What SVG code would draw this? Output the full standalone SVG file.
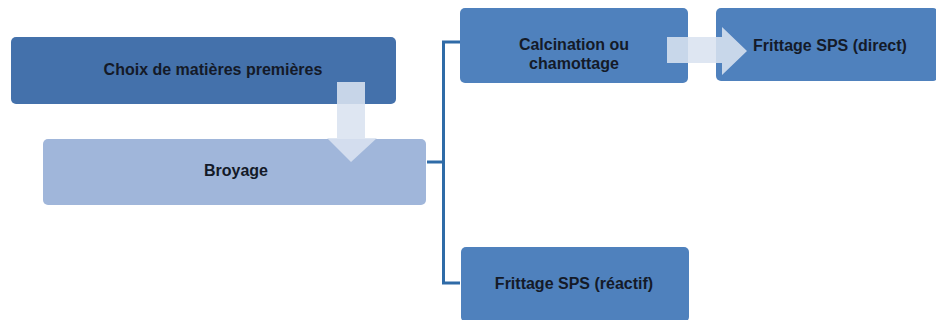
<svg xmlns="http://www.w3.org/2000/svg" width="936" height="320" viewBox="0 0 936 320">
<style>
.t{font-family:"Liberation Sans",Arial,sans-serif;font-weight:bold;font-size:16px;fill:#141a28;text-anchor:middle;dominant-baseline:central}
.dk{fill:#4471ab}
.md{fill:#4f81bd}
.lt{fill:#a0b6da}
.ar{fill:#d9e2f0;opacity:0.88}
.cn{stroke:#2f6ba7;stroke-width:3;fill:none}
</style>
<rect width="936" height="320" fill="#ffffff"/>
<g id="connectors">
<path class="cn" d="M460,42 H443.5 V283 H460"/>
<path class="cn" d="M427,162 H443.5"/>
</g>
<g id="n1">
<rect class="dk" x="11" y="37" width="385" height="67" rx="5"/>
<text class="t" x="213" y="69">Choix de matières premières</text>
</g>
<g id="n2">
<rect class="lt" x="43" y="139" width="383" height="66" rx="5"/>
<text class="t" x="236" y="170">Broyage</text>
</g>
<g id="n3">
<rect class="md" x="460" y="8" width="228" height="75" rx="5"/>
<text class="t" x="574" y="44">Calcination ou</text>
<text class="t" x="574" y="63">chamottage</text>
</g>
<g id="n4">
<rect class="md" x="716" y="8" width="222" height="73" rx="5"/>
<text class="t" x="830" y="45">Frittage SPS (direct)</text>
</g>
<g id="n5">
<rect class="md" x="461" y="247" width="228" height="75" rx="5"/>
<text class="t" x="574" y="283">Frittage SPS (réactif)</text>
</g>
<g id="arrows">
<polygon class="ar" points="337,82 365,82 365,138 377,138 351,162 327,138 337,138"/>
<polygon class="ar" points="667,37 722,37 722,27 747,51 722,75 722,63 667,63"/>
</g>
</svg>
